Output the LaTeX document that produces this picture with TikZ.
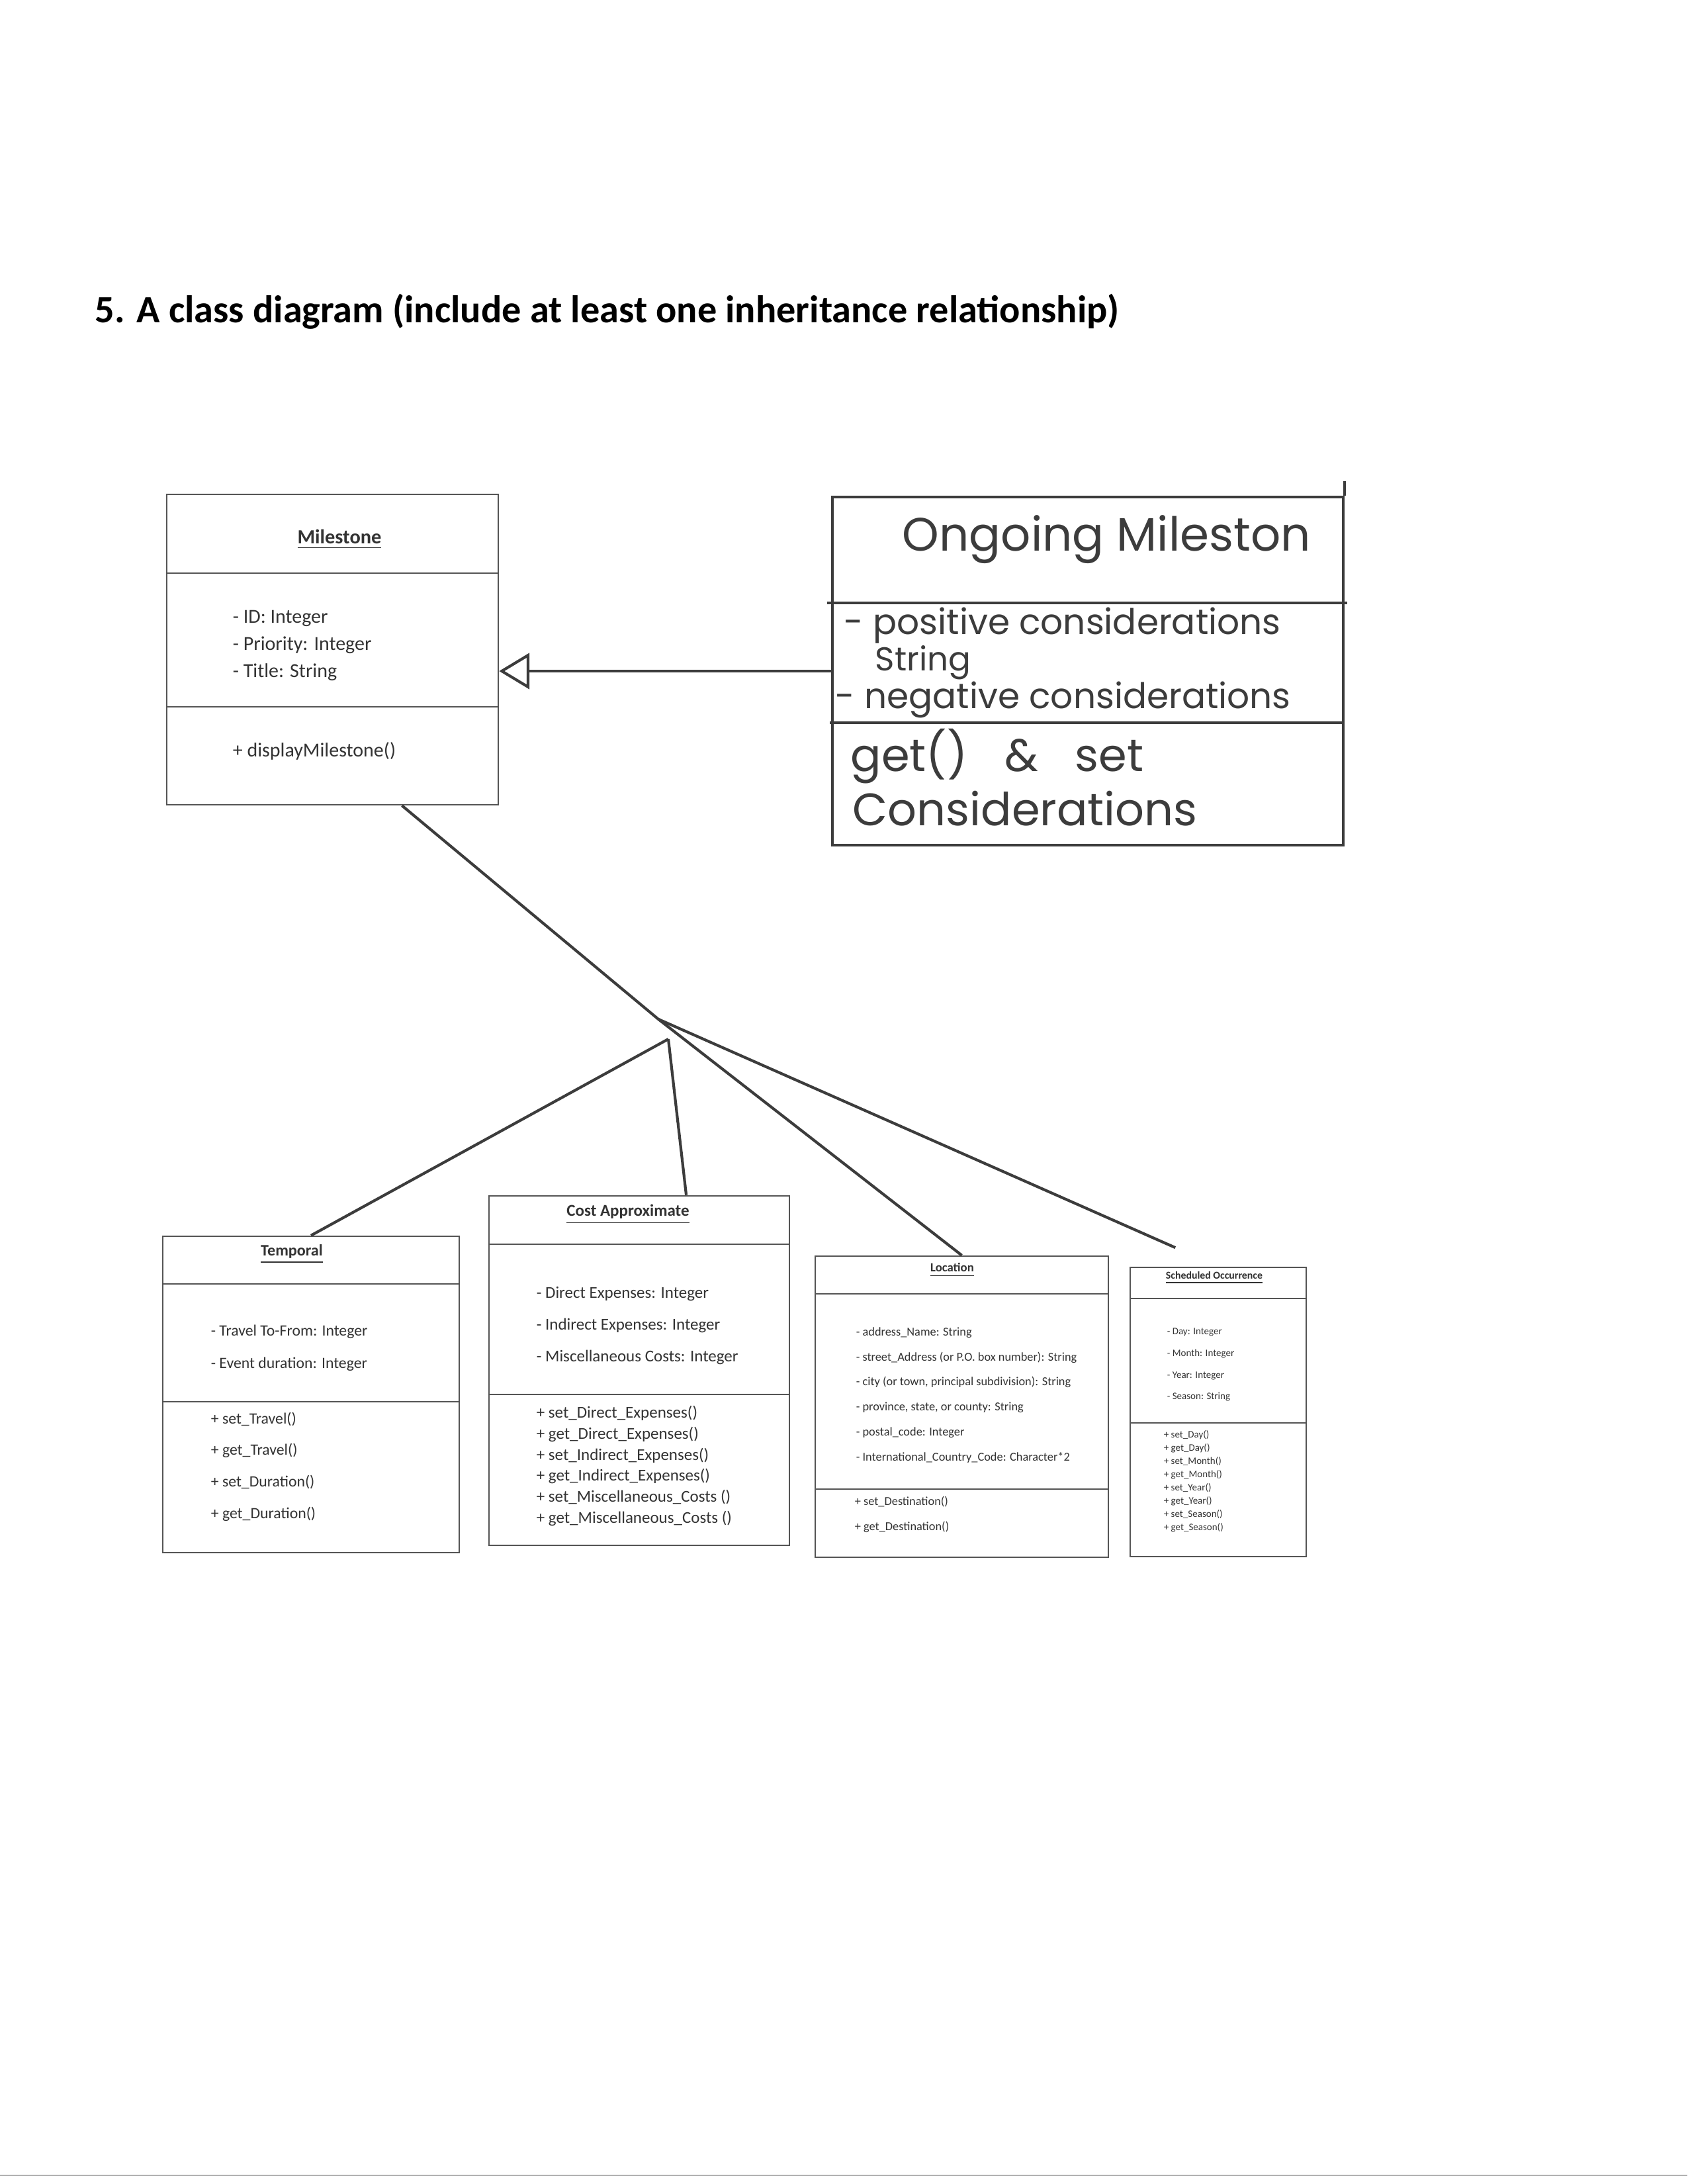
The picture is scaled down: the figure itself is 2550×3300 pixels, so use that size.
\documentclass[tikz,border=0pt]{standalone}
\usepackage{fontspec}
\setmainfont{Carlito}
\newfontfamily\handfont{Poppins}
\usepackage{xcolor}
\usetikzlibrary{arrows.meta,fit}

\definecolor{boxgray}{HTML}{555555}
\definecolor{txtgray}{HTML}{333333}
\definecolor{inkgray}{HTML}{3C3C3C}

\begin{document}
\begin{tikzpicture}[x=0.24pt, y=-0.24pt,
  clsbox/.style={draw=boxgray, line width=0.6pt, inner sep=0pt},
  handbox/.style={draw=inkgray, line width=0.9pt, inner sep=0pt},
  divl/.style={draw=boxgray, line width=0.6pt},
  hdiv/.style={draw=inkgray, line width=0.9pt},
  ttl/.style={inner sep=0pt, text=txtgray},
  attr/.style={inner sep=0pt, anchor=west, align=left, text=txtgray},
  hand/.style={inner sep=0pt, anchor=west, text=inkgray,
    font=\handfont\fontsize{12.8pt}{15pt}\selectfont},
  handop/.style={hand, font=\handfont\fontsize{16.5pt}{19pt}\selectfont},
  ln/.style={draw=inkgray, line width=1pt},
  gen/.style={ln, -{Triangle[open, length=11pt, width=13pt]}}
]
\useasboundingbox[fill=white] (0,0) rectangle (2550,3300);

\node[anchor=west, inner sep=0pt, text=black,
  font=\bfseries\fontsize{14pt}{17pt}\selectfont] (heading) at (143,471)
  {5. A class diagram (include at least one inheritance relationship)};

% Milestone
\node[clsbox, fit={(252,747) (753,1216)}] (milestone) {};
\draw[divl] (252,866) -- (753,866);
\draw[divl] (252,1068) -- (753,1068);
\node[ttl, font=\bfseries\fontsize{7.3pt}{9pt}\selectfont] (mtitle) at (513,815) {\underline{Milestone}};
\node[attr, font=\fontsize{7.2pt}{9.84pt}\selectfont] (mattr) at (351,975)
  {- ID: Integer\\- Priority: Integer\\- Title: String};
\node[attr, font=\fontsize{7.2pt}{9.84pt}\selectfont] (mop) at (351,1135) {+ displayMilestone()};

% Ongoing milestone (hand drawn)
\node[handbox, fit={(1258,751) (2030,1277)}] (ongoing) {};
\draw[hdiv] (ongoing.north east) -- ++(0,-22);
\draw[hdiv] (1250,911) -- (2036,911);
\draw[hdiv] (1254,1092) -- (2030,1092);
\node[hand, font=\handfont\fontsize{17pt}{20pt}\selectfont] (otitle) at (1363,815) {Ongoing Mileston};
\node[hand] (opos) at (1275,945) {- positive considerations};
\node[hand, font=\handfont\fontsize{12pt}{14pt}\selectfont] (ostr) at (1322,1001) {String};
\node[hand] (oneg) at (1262,1057) {- negative considerations};
\node[handop] (oget) at (1285,1143) {get()\hspace{9pt} \&\hspace{9pt} set};
\node[handop] (ocons) at (1288,1222) {Considerations};

% Temporal
\node[clsbox, fit={(246,1868) (694,2346)}] (temporal) {};
\draw[divl] (246,1940) -- (694,1940);
\draw[divl] (246,2118) -- (694,2118);
\node[ttl, font=\bfseries\fontsize{5.8pt}{7pt}\selectfont] (ttitle) at (441,1895) {\underline{Temporal}};
\node[attr, font=\fontsize{5.7pt}{11.8pt}\selectfont] (tattr) at (318,2037)
  {- Travel To-From: Integer\\- Event duration: Integer};
\node[attr, font=\fontsize{5.7pt}{11.45pt}\selectfont] (top) at (318,2216)
  {+ set\_Travel()\\+ get\_Travel()\\+ set\_Duration()\\+ get\_Duration()};

% Cost Approximate
\node[clsbox, fit={(739,1807) (1193,2335)}] (costapprox) {};
\draw[divl] (739,1880) -- (1193,1880);
\draw[divl] (739,2107) -- (1193,2107);
\node[ttl, font=\bfseries\fontsize{6pt}{7pt}\selectfont] (ctitle) at (949,1835) {\underline{Cost Approximate}};
\node[attr, font=\fontsize{6pt}{11.6pt}\selectfont] (cattr) at (810,2003)
  {- Direct Expenses: Integer\\- Indirect Expenses: Integer\\- Miscellaneous Costs: Integer};
\node[attr, font=\fontsize{6pt}{7.6pt}\selectfont] (cop) at (810,2215)
  {+ set\_Direct\_Expenses()\\+ get\_Direct\_Expenses()\\+ set\_Indirect\_Expenses()\\+ get\_Indirect\_Expenses()\\+ set\_Miscellaneous\_Costs ()\\+ get\_Miscellaneous\_Costs ()};

% Location
\node[clsbox, fit={(1232,1898) (1675,2353)}] (location) {};
\draw[divl] (1232,1955) -- (1675,1955);
\draw[divl] (1232,2250) -- (1675,2250);
\node[ttl, font=\bfseries\fontsize{4.5pt}{6pt}\selectfont] (ltitle) at (1439,1919) {\underline{Location}};
\node[attr, font=\fontsize{4.4pt}{9.1pt}\selectfont] (lattr) at (1293,2108)
  {- address\_Name: String\\- street\_Address (or P.O. box number): String\\- city (or town, principal subdivision): String\\- province, state, or county: String\\- postal\_code: Integer\\- International\_Country\_Code: Character*2};
\node[attr, font=\fontsize{4.4pt}{9.1pt}\selectfont] (lop) at (1291,2288)
  {+ set\_Destination()\\+ get\_Destination()};

% Scheduled Occurrence
\node[clsbox, fit={(1708,1915) (1974,2352)}] (sched) {};
\draw[divl] (1708,1962) -- (1974,1962);
\draw[divl] (1708,2150) -- (1974,2150);
\node[ttl, font=\bfseries\fontsize{3.8pt}{5pt}\selectfont] (stitle) at (1835,1931) {\underline{Scheduled Occurrence}};
\node[attr, font=\fontsize{3.6pt}{7.9pt}\selectfont] (sattr) at (1763,2062)
  {- Day: Integer\\- Month: Integer\\- Year: Integer\\- Season: String};
\node[attr, font=\fontsize{3.6pt}{4.8pt}\selectfont] (sop) at (1758,2238)
  {+ set\_Day()\\+ get\_Day()\\+ set\_Month()\\+ get\_Month()\\+ set\_Year()\\+ get\_Year()\\+ set\_Season()\\+ get\_Season()};

% connectors
\coordinate (j1) at (995,1540);
\coordinate (j2) at (1010,1570);
\draw[gen] (ongoing.west) -- (milestone.east |- ongoing.west);
\draw[ln] (milestone.-66) -- (j1);
\draw[ln] (j1) -- (location.north);
\draw[ln, shorten >=17pt] (j1) -- (sched.north);
\draw[ln] (j2) -- (temporal.north);
\draw[ln] (j2) -- (costapprox.75);

\draw[gray!60, line width=0.4pt] (0,3287) -- (2550,3287);
\end{tikzpicture}
\end{document}
